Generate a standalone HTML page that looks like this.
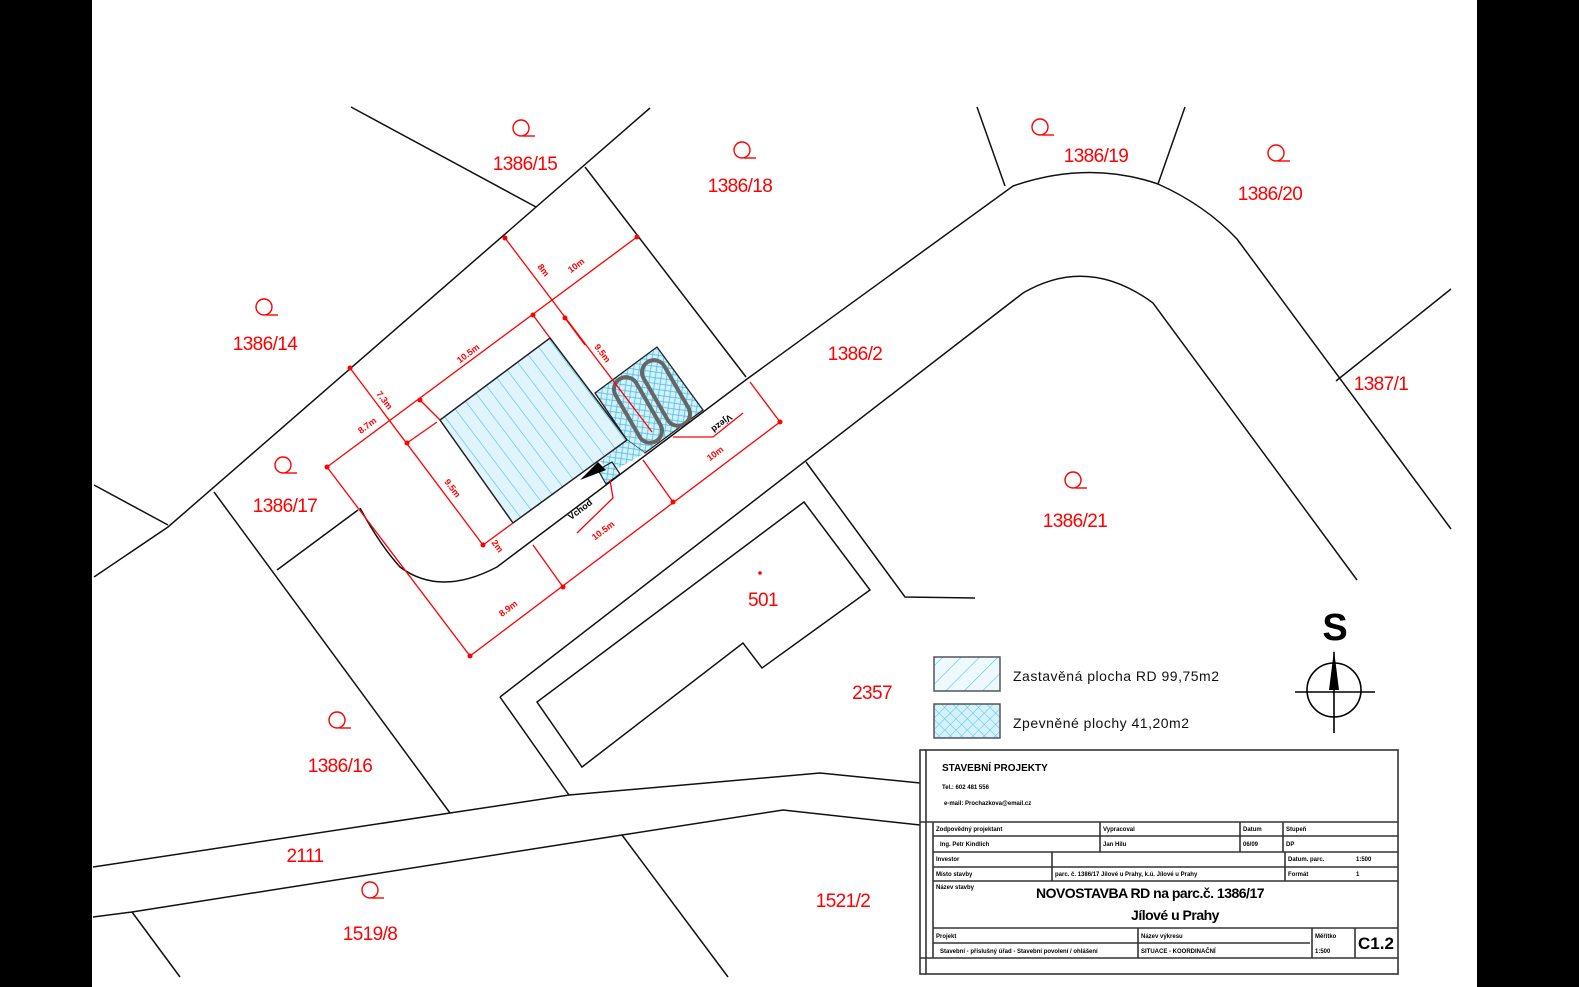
<!DOCTYPE html>
<html><head><meta charset="utf-8"><style>
html,body{margin:0;padding:0;background:#000;}
body{width:1579px;height:987px;overflow:hidden;position:relative;}
svg{position:absolute;left:0;top:0;}
.r{fill:#f00;font-family:"Liberation Sans Narrow","Liberation Sans",sans-serif;font-size:19px;text-anchor:middle;letter-spacing:-0.6px;}
.d{fill:#f00;font-family:"Liberation Sans",sans-serif;font-size:9px;font-weight:bold;text-anchor:middle;}
.t{font-family:"Liberation Sans",sans-serif;font-size:6px;font-weight:bold;fill:#000;}
</style></head><body>
<svg width="1579" height="987" viewBox="0 0 1579 987" xmlns="http://www.w3.org/2000/svg">
<defs>
<pattern id="h1" width="13" height="13" patternUnits="userSpaceOnUse" patternTransform="rotate(-37)">
<rect width="13" height="13" fill="#dff4fb"/><line x1="0" y1="0" x2="0" y2="13" stroke="#55c3e6" stroke-width="1.3"/></pattern>
<pattern id="h2" width="8" height="8" patternUnits="userSpaceOnUse" patternTransform="rotate(-37)">
<rect width="8" height="8" fill="#d5f1fb"/><line x1="0" y1="0" x2="8" y2="8" stroke="#55c3e6" stroke-width="0.9"/><line x1="8" y1="0" x2="0" y2="8" stroke="#55c3e6" stroke-width="0.9"/></pattern>
<pattern id="h3" width="13" height="13" patternUnits="userSpaceOnUse" patternTransform="rotate(45)">
<rect width="13" height="13" fill="#eef9fd"/><line x1="0" y1="0" x2="0" y2="13" stroke="#55c3e6" stroke-width="1.2"/></pattern>
<pattern id="h4" width="8" height="8" patternUnits="userSpaceOnUse" patternTransform="rotate(45)">
<rect width="8" height="8" fill="#d5f1fb"/><line x1="0" y1="0" x2="0" y2="8" stroke="#55c3e6" stroke-width="1"/><line x1="0" y1="0" x2="8" y2="0" stroke="#55c3e6" stroke-width="1"/></pattern>
<g id="q"><circle cx="0" cy="0" r="8" fill="none" stroke="#f00" stroke-width="1.4"/><line x1="2" y1="8" x2="14" y2="8" stroke="#f00" stroke-width="1.4"/></g>
</defs>
<rect x="92" y="0" width="1385" height="987" fill="#fff"/>

<!-- house / paved -->
<polygon points="595,393 657,347 703,410 645,453 627,440" fill="url(#h2)" stroke="#222" stroke-width="1.3"/>
<polygon points="627,440 645,453 612,472 600,462" fill="url(#h2)" stroke="none"/>
<polygon points="598,470 612,462 620,474 606,484" fill="url(#h2)" stroke="#222" stroke-width="1.2"/>
<polygon points="550,338 627,440 513,523 440,420" fill="url(#h1)" stroke="#222" stroke-width="1.5"/>
<g fill="none" stroke="#666" stroke-width="4">
<rect x="-36" y="-12" width="72" height="24" rx="12" transform="translate(638,410) rotate(60)"/>
<rect x="-36" y="-12" width="72" height="24" rx="12" transform="translate(666,393) rotate(60)"/>
</g>

<g fill="none" stroke="#111" stroke-width="1.5">
<polyline points="351,107 536,207"/>
<polyline points="650,108 168,527 94,577"/>
<polyline points="94,485 168,525"/>
<polyline points="585,167 746,377"/>
<polyline points="214,492 450,813"/>
<polyline points="277,570 358,510"/>
<path d="M360,508 Q380,545 400,567 Q440,597 497,567 L747,379 L1013,186 Q1088,160 1158,184 Q1205,205 1237,239 L1451,529"/>
<path d="M500,697 L1023,293 Q1088,255 1153,303 L1357,580"/>
<polyline points="806,462 905,597 975,598"/>
<polyline points="500,697 569,795"/>
<line x1="977" y1="107" x2="1005" y2="186"/>
<line x1="1185" y1="107" x2="1158" y2="184"/>
<line x1="1451" y1="289" x2="1336" y2="381"/>
<polygon points="804,502 870,590 762,668 743,643 582,767 537,702"/>
<polyline points="93,867 450,813 569,795 820,773 920,783"/>
<polyline points="93,917 132,912 622,835 783,810 920,825"/>
<line x1="132" y1="912" x2="180" y2="977"/>
<line x1="622" y1="835" x2="728" y2="977"/>
</g>

<g fill="none" stroke="#f00" stroke-width="1.3">
<line x1="505" y1="238" x2="652" y2="432"/>
<line x1="637" y1="237" x2="327" y2="467"/>
<line x1="327" y1="467" x2="470" y2="656"/>
<polyline points="470,656 780,422 750,382"/>
<line x1="350" y1="368" x2="483" y2="545"/>
<line x1="420" y1="400" x2="440" y2="420"/>
<line x1="533" y1="315" x2="550" y2="338"/>
<line x1="565" y1="318" x2="585" y2="345"/>
<line x1="407" y1="443" x2="437" y2="422"/>
<line x1="483" y1="545" x2="513" y2="523"/>
<line x1="533" y1="545" x2="563" y2="587"/>
<line x1="643" y1="460" x2="673" y2="502"/>
<polyline points="673,437 713,437 743,413"/>
<polyline points="610,480 613,498 577,533"/>
</g>
<g fill="#f00">
<circle cx="505" cy="238" r="2.5"/><circle cx="637" cy="237" r="2.5"/><circle cx="533" cy="315" r="2.5"/><circle cx="420" cy="400" r="2.5"/>
<circle cx="565" cy="318" r="2.5"/><circle cx="350" cy="368" r="2.5"/><circle cx="327" cy="467" r="2.5"/><circle cx="407" cy="443" r="2.5"/>
<circle cx="470" cy="656" r="2.5"/><circle cx="563" cy="587" r="2.5"/><circle cx="673" cy="502" r="2.5"/><circle cx="780" cy="422" r="2.5"/><circle cx="483" cy="545" r="2.5"/>
</g>
<polygon points="580,480 598,462 606,470" fill="#000"/>

<g class="d">
<text transform="translate(541,272) rotate(53)">8m</text>
<text transform="translate(578,268) rotate(-37)">10m</text>
<text transform="translate(470,356) rotate(-37)">10.5m</text>
<text transform="translate(600,355) rotate(53)">9.5m</text>
<text transform="translate(382,402) rotate(53)">7.3m</text>
<text transform="translate(369,428) rotate(-37)">8.7m</text>
<text transform="translate(450,490) rotate(53)">9.5m</text>
<text transform="translate(495,548) rotate(53)">2m</text>
<text transform="translate(605,533) rotate(-37)">10.5m</text>
<text transform="translate(717,456) rotate(-37)">10m</text>
<text transform="translate(510,611) rotate(-37)">8.9m</text>
</g>
<g style="font-family:'Liberation Sans',sans-serif;font-size:9px;font-weight:bold;text-anchor:middle;fill:#000">
<text transform="translate(720,421) rotate(143)">Vjezd</text>
<text transform="translate(582,512) rotate(-37)">Vchod</text>
</g>

<use href="#q" x="521" y="128"/><use href="#q" x="742" y="150"/><use href="#q" x="1040" y="127"/><use href="#q" x="1276" y="153"/>
<use href="#q" x="264" y="307"/><use href="#q" x="283" y="465"/><use href="#q" x="1073" y="480"/><use href="#q" x="337" y="720"/><use href="#q" x="370" y="890"/>
<circle cx="760" cy="573" r="1.8" fill="#f00"/>

<g class="r">
<text x="525" y="170">1386/15</text>
<text x="740" y="192">1386/18</text>
<text x="1096" y="162">1386/19</text>
<text x="1270" y="200">1386/20</text>
<text x="265" y="350">1386/14</text>
<text x="855" y="360">1386/2</text>
<text x="1381" y="390">1387/1</text>
<text x="285" y="512">1386/17</text>
<text x="1075" y="527">1386/21</text>
<text x="763" y="606">501</text>
<text x="872" y="699">2357</text>
<text x="340" y="772">1386/16</text>
<text x="305" y="862">2111</text>
<text x="370" y="940">1519/8</text>
<text x="843" y="907">1521/2</text>
</g>

<rect x="934" y="657" width="66" height="34" fill="url(#h3)" stroke="#555" stroke-width="1.5"/>
<rect x="934" y="704" width="66" height="34" fill="url(#h4)" stroke="#555" stroke-width="1.5"/>
<text x="1013" y="681" style="font-family:'Liberation Sans',sans-serif;font-size:14px;fill:#111;letter-spacing:0.5px">Zastavěná  plocha  RD  99,75m2</text>
<text x="1013" y="728" style="font-family:'Liberation Sans',sans-serif;font-size:14px;fill:#111;letter-spacing:0.5px">Zpevněné  plochy  41,20m2</text>

<text x="1335" y="640" style="font-family:'Liberation Sans',sans-serif;font-size:38px;font-weight:bold;text-anchor:middle;fill:#000">S</text>
<circle cx="1334" cy="690" r="27" fill="none" stroke="#000" stroke-width="1.6"/>
<line x1="1295" y1="692" x2="1375" y2="692" stroke="#000" stroke-width="1.6"/>
<line x1="1334" y1="652" x2="1334" y2="733" stroke="#000" stroke-width="1.6"/>
<polygon points="1334,650 1329,690 1339,690" fill="#000"/>

<g fill="none" stroke="#333" stroke-width="1.6">
<rect x="920" y="750" width="478" height="224"/>
<line x1="926" y1="750" x2="926" y2="974"/>
<line x1="920" y1="822" x2="1398" y2="822"/>
<line x1="933" y1="822" x2="933" y2="958"/>
<line x1="933" y1="836" x2="1398" y2="836"/>
<line x1="933" y1="852" x2="1398" y2="852"/>
<line x1="933" y1="867" x2="1398" y2="867"/>
<line x1="933" y1="881" x2="1398" y2="881"/>
<line x1="933" y1="928" x2="1398" y2="928"/>
<line x1="933" y1="943" x2="1310" y2="943"/>
<line x1="920" y1="958" x2="1398" y2="958"/>
<line x1="1100" y1="822" x2="1100" y2="852"/>
<line x1="1240" y1="822" x2="1240" y2="852"/>
<line x1="1283" y1="822" x2="1283" y2="852"/>
<line x1="1052" y1="852" x2="1052" y2="881"/>
<line x1="1285" y1="852" x2="1285" y2="881"/>
<line x1="1138" y1="928" x2="1138" y2="958"/>
<line x1="1312" y1="928" x2="1312" y2="958"/>
<line x1="1355" y1="928" x2="1355" y2="958"/>
</g>
<text x="942" y="771" style="font-family:'Liberation Sans',sans-serif;font-size:10px;font-weight:bold">STAVEBNÍ PROJEKTY</text>
<text class="t" x="942" y="789">Tel.: 602 481 556</text>
<text class="t" x="944" y="805">e-mail: Prochazkova@email.cz</text>
<text class="t" x="936" y="831">Zodpovědný projektant</text>
<text class="t" x="940" y="846">Ing. Petr Kindlich</text>
<text class="t" x="1103" y="831">Vypracoval</text>
<text class="t" x="1103" y="846">Jan Hilu</text>
<text class="t" x="1243" y="831">Datum</text>
<text class="t" x="1243" y="846">06/09</text>
<text class="t" x="1286" y="831">Stupeň</text>
<text class="t" x="1286" y="846">DP</text>
<text class="t" x="936" y="861">Investor</text>
<text class="t" x="936" y="876">Místo stavby</text>
<text class="t" x="1055" y="876">parc. č. 1386/17 Jílové u Prahy, k.ú. Jílové u Prahy</text>
<text class="t" x="1288" y="861">Datum. parc.</text><text class="t" x="1356" y="861">1:500</text>
<text class="t" x="1288" y="876">Formát</text><text class="t" x="1356" y="876">1</text>
<text class="t" x="936" y="889">Název stavby</text>
<text x="1150" y="898" style="font-family:'Liberation Sans',sans-serif;font-size:14px;font-weight:bold;text-anchor:middle;letter-spacing:-0.5px">NOVOSTAVBA RD na parc.č. 1386/17</text>
<text x="1175" y="920" style="font-family:'Liberation Sans',sans-serif;font-size:14px;font-weight:bold;text-anchor:middle;letter-spacing:-0.5px">Jílové u Prahy</text>
<text class="t" x="936" y="938">Projekt</text>
<text class="t" x="940" y="953">Stavební - příslušný úřad - Stavební povolení / ohlášení</text>
<text class="t" x="1141" y="938">Název výkresu</text>
<text class="t" x="1141" y="953">SITUACE - KOORDINAČNÍ</text>
<text class="t" x="1315" y="938">Měřítko</text>
<text class="t" x="1315" y="953">1:500</text>
<text x="1376" y="949" style="font-family:'Liberation Sans',sans-serif;font-size:17px;font-weight:bold;text-anchor:middle">C1.2</text>
</svg>
</body></html>
